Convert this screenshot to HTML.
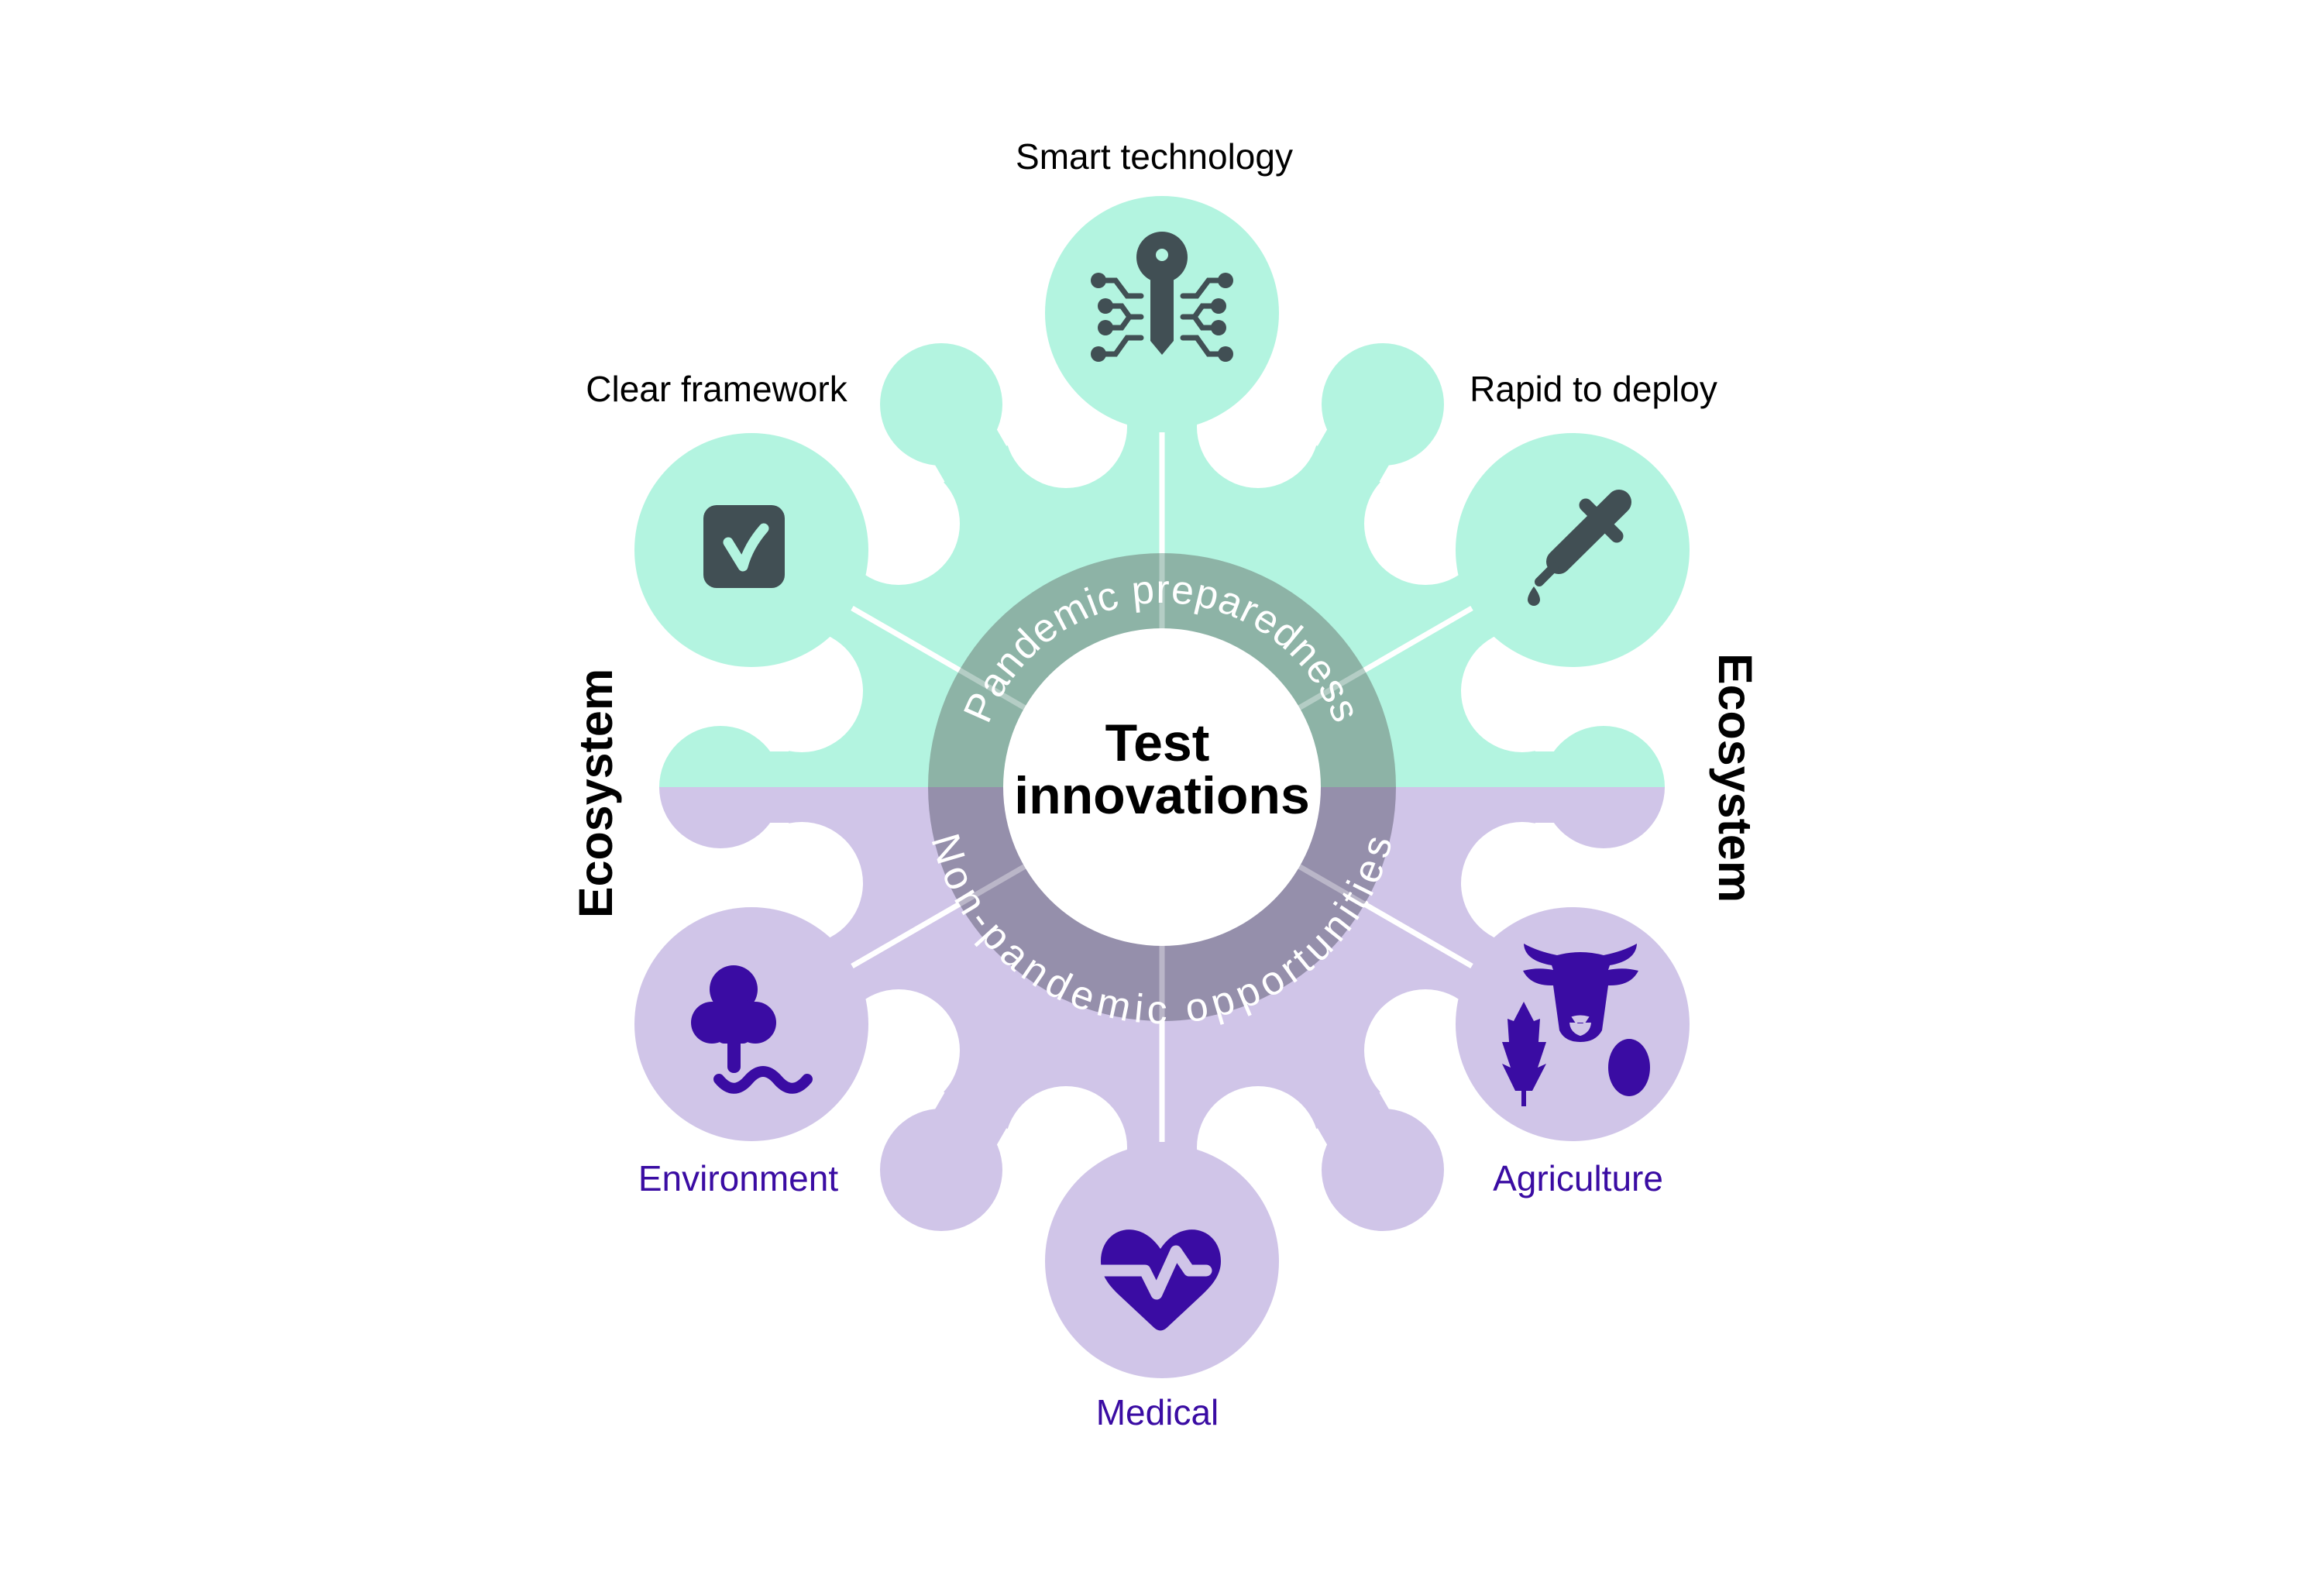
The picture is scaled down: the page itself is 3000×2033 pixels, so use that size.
<!DOCTYPE html>
<html><head><meta charset="utf-8"><style>
html,body{margin:0;padding:0;background:#fff}
svg{display:block}
text{font-family:"Liberation Sans",sans-serif}
</style></head><body>
<svg width="3000" height="2033" viewBox="0 0 3000 2033" xmlns="http://www.w3.org/2000/svg">
<defs>
<mask id="shape" maskUnits="userSpaceOnUse" x="0" y="0" width="3000" height="2033">
<rect width="3000" height="2033" fill="#000"/>
<circle cx="1500" cy="1016" r="484" fill="#fff"/>
<g stroke="#fff" stroke-width="92">
<line x1="1500" y1="1016" x2="1785" y2="522"/><line x1="1500" y1="1016" x2="1215" y2="522"/>
<line x1="1500" y1="1016" x2="1785" y2="1510"/><line x1="1500" y1="1016" x2="1215" y2="1510"/>
<line x1="1500" y1="1016" x2="2070" y2="1016"/><line x1="1500" y1="1016" x2="930" y2="1016"/>
</g>
<g fill="#000">
<circle cx="1624" cy="551" r="79"/><circle cx="1376" cy="551" r="79"/>
<circle cx="1840" cy="676" r="79"/><circle cx="1160" cy="676" r="79"/>
<circle cx="1965" cy="892" r="79"/><circle cx="1035" cy="892" r="79"/>
<circle cx="1965" cy="1140" r="79"/><circle cx="1035" cy="1140" r="79"/>
<circle cx="1840" cy="1356" r="79"/><circle cx="1160" cy="1356" r="79"/>
<circle cx="1624" cy="1481" r="79"/><circle cx="1376" cy="1481" r="79"/>
</g>
<g fill="#fff">
<circle cx="1500" cy="404" r="151"/><circle cx="2030" cy="710" r="151"/><circle cx="970" cy="710" r="151"/>
<circle cx="2030" cy="1322" r="151"/><circle cx="970" cy="1322" r="151"/><circle cx="1500" cy="1628" r="151"/>
<circle cx="1785" cy="522" r="79"/><circle cx="1215" cy="522" r="79"/>
<circle cx="1785" cy="1510" r="79"/><circle cx="1215" cy="1510" r="79"/>
<circle cx="2070" cy="1016" r="79"/><circle cx="930" cy="1016" r="79"/>
</g>
</mask>
<path id="arcTop" d="M 1262 1016 A 238 238 0 0 1 1738 1016"/>
<path id="arcBot" d="M 1232 1016 A 268 268 0 0 0 1768 1016"/>
</defs>

<g mask="url(#shape)">
<rect x="0" y="0" width="3000" height="1016" fill="#b3f4e0"/>
<rect x="0" y="1016" width="3000" height="1017" fill="#d0c5e8"/>
</g>

<g stroke="#fff" stroke-width="7">
<line x1="1500" y1="1016" x2="1500" y2="558"/>
<line x1="1500" y1="1016" x2="1500" y2="1474"/>
<line x1="1500" y1="1016" x2="1900" y2="785"/>
<line x1="1500" y1="1016" x2="1100" y2="785"/>
<line x1="1500" y1="1016" x2="1900" y2="1247"/>
<line x1="1500" y1="1016" x2="1100" y2="1247"/>
</g>

<path d="M 1198 1016 A 302 302 0 0 1 1802 1016 Z" fill="#8db3a6"/>
<path d="M 1198 1016 A 302 302 0 0 0 1802 1016 Z" fill="#958fab"/>
<g stroke="#fff" stroke-opacity="0.35" stroke-width="7">
<line x1="1500" y1="1016" x2="1500" y2="700"/>
<line x1="1500" y1="1016" x2="1500" y2="1330"/>
<line x1="1500" y1="1016" x2="1770" y2="860"/>
<line x1="1500" y1="1016" x2="1230" y2="860"/>
<line x1="1500" y1="1016" x2="1770" y2="1172"/>
<line x1="1500" y1="1016" x2="1230" y2="1172"/>
</g>
<circle cx="1500" cy="1016" r="205" fill="#fff"/>

<text font-size="52" fill="#fff" letter-spacing="1"><textPath href="#arcTop" startOffset="50%" text-anchor="middle">Pandemic preparedness</textPath></text>
<text font-size="52" fill="#fff" letter-spacing="3" dominant-baseline="hanging"><textPath href="#arcBot" startOffset="50%" text-anchor="middle">Non-pandemic opportunities</textPath></text>

<text x="1494" y="982" font-size="68" font-weight="bold" text-anchor="middle">Test</text>
<text x="1500" y="1050" font-size="68" font-weight="bold" text-anchor="middle">innovations</text>

<g font-size="46" text-anchor="middle">
<text x="1490" y="218">Smart technology</text>
<text x="925" y="518">Clear framework</text>
<text x="2057" y="518">Rapid to deploy</text>
<text x="953" y="1537" fill="#3a0ca3">Environment</text>
<text x="2037" y="1537" fill="#3a0ca3">Agriculture</text>
<text x="1494" y="1839" fill="#3a0ca3">Medical</text>
</g>
<text transform="translate(790 1024) rotate(-90)" font-size="61" font-weight="bold" text-anchor="middle">Ecosystem</text>
<text transform="translate(2219 1004) rotate(90)" font-size="61" font-weight="bold" text-anchor="middle">Ecosystem</text>

<g fill="#414f54" stroke="#414f54">
<circle cx="1500" cy="332" r="33" stroke="none"/>
<path d="M1485 350 L1515 350 L1515 440 L1500 458 L1485 440 Z" stroke="none"/>
<g fill="none" stroke-width="7" stroke-linecap="round">
<path d="M1418 362 L1440 362 L1455 382 L1473 382"/>
<path d="M1427 395 L1448 395 L1458 409 L1473 409 M1427 423 L1448 423 L1458 409"/>
<path d="M1418 457 L1440 457 L1455 436 L1473 436"/>
<path d="M1582 362 L1560 362 L1545 382 L1527 382"/>
<path d="M1573 395 L1552 395 L1542 409 L1527 409 M1573 423 L1552 423 L1542 409"/>
<path d="M1582 457 L1560 457 L1545 436 L1527 436"/>
</g>
<g stroke="none">
<circle cx="1418" cy="362" r="10"/><circle cx="1427" cy="395" r="10"/><circle cx="1427" cy="423" r="10"/><circle cx="1418" cy="457" r="10"/>
<circle cx="1582" cy="362" r="10"/><circle cx="1573" cy="395" r="10"/><circle cx="1573" cy="423" r="10"/><circle cx="1582" cy="457" r="10"/>
</g>
</g>
<circle cx="1500" cy="329" r="8" fill="#b3f4e0"/>

<rect x="908" y="652" width="105" height="107" rx="17" fill="#414f54"/>
<path d="M940 700 L959 731 Q966 705 986 682" fill="none" stroke="#b3f4e0" stroke-width="13" stroke-linecap="round" stroke-linejoin="round"/>

<g stroke="#414f54" stroke-linecap="round" fill="none">
<line x1="2012" y1="725" x2="2090" y2="648" stroke-width="32"/>
<line x1="2047" y1="652" x2="2087" y2="692" stroke-width="17"/>
<line x1="1987" y1="751" x2="2006" y2="732" stroke-width="12"/>
</g>
<path d="M1980 757 Q1988 768 1988 774 A8 8 0 0 1 1972 774 Q1972 768 1980 757 Z" fill="#414f54"/>

<g fill="#3a0ca3">
<circle cx="947" cy="1277" r="31"/><circle cx="919" cy="1320" r="27"/><circle cx="975" cy="1320" r="27"/>
<rect x="925" y="1290" width="44" height="57" rx="10"/>
<rect x="939" y="1320" width="17" height="65" rx="8"/>
</g>
<path d="M928 1393 Q947 1416 966 1394 Q985 1372 1004 1394 Q1023 1416 1042 1393" fill="none" stroke="#3a0ca3" stroke-width="14" stroke-linecap="round"/>

<g fill="#3a0ca3">
<path d="M1967 1218 Q1985 1228 2010 1233 Q2040 1225 2070 1233 Q2095 1228 2113 1218 Q2112 1240 2078 1246 L2076 1252 Q2096 1248 2115 1253 Q2105 1273 2076 1272 L2068 1330 Q2060 1345 2040 1345 Q2020 1345 2013 1330 L2005 1272 Q1976 1273 1966 1253 Q1985 1248 2005 1252 L2003 1246 Q1968 1240 1967 1218 Z"/>
<path d="M1967 1293 L1980 1318 L1988 1315 L1986 1345 L1996 1345 L1985 1378 L1996 1373 L1978 1408 L1970 1408 L1970 1428 L1964 1428 L1964 1408 L1956 1408 L1939 1373 L1950 1378 L1939 1345 L1948 1345 L1946 1315 L1954 1318 Z"/>
<ellipse cx="2103" cy="1378" rx="27" ry="37"/>
</g>
<path d="M2030 1313 Q2040 1310 2050 1313 L2044 1322 L2036 1322 Z M2027 1320 Q2028 1332 2040 1336 Q2052 1332 2053 1320" fill="#d0c5e8" stroke="#d0c5e8" stroke-width="2"/>

<path d="M1498 1612 C1470 1570 1421 1585 1421 1628 C1421 1645 1430 1658 1445 1672 L1490 1714 Q1498 1721 1506 1714 L1551 1672 C1566 1658 1576 1645 1576 1628 C1576 1585 1526 1570 1498 1612 Z" fill="#3a0ca3"/>
<path d="M1418 1640 L1478 1640 L1493 1670 L1518 1615 L1535 1640 L1557 1640" fill="none" stroke="#d0c5e8" stroke-width="15" stroke-linecap="round" stroke-linejoin="round"/>
</svg>
</body></html>
